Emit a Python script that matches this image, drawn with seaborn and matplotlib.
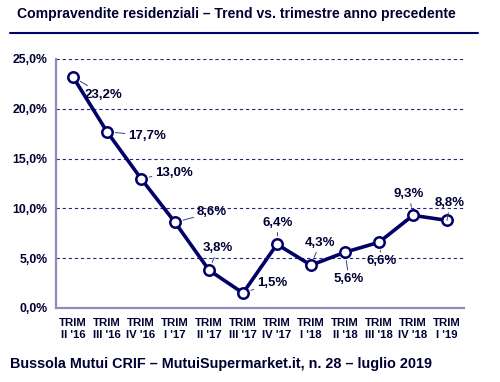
import matplotlib
matplotlib.use("Agg")
import matplotlib.pyplot as plt
import seaborn as sns
import pandas as pd
import numpy as np

categories = ["TRIM\nII '16", "TRIM\nIII '16", "TRIM\nIV '16", "TRIM\nI '17", "TRIM\nII '17",
              "TRIM\nIII '17", "TRIM\nIV '17", "TRIM\nI '18", "TRIM\nII '18", "TRIM\nIII '18",
              "TRIM\nIV '18", "TRIM\nI '19"]
values = [23.2, 17.7, 13.0, 8.6, 3.8, 1.5, 6.4, 4.3, 5.6, 6.6, 9.3, 8.8]
value_labels = ["23,2%", "17,7%", "13,0%", "8,6%", "3,8%", "1,5%", "6,4%", "4,3%", "5,6%", "6,6%", "9,3%", "8,8%"]
y_ticks = [0, 5, 10, 15, 20, 25]
y_tick_labels = ["0,0%", "5,0%", "10,0%", "15,0%", "20,0%", "25,0%"]
title = "Compravendite residenziali – Trend vs. trimestre anno precedente"
footer = "Bussola Mutui CRIF – MutuiSupermarket.it, n. 28 – luglio 2019"

# label offsets in pixels (dx, dy up)
label_offsets = [(30, -18), (40, -4), (33, 6), (37, 10), (9, 22), (29, 10),
                 (1, 21), (9, 22), (4, -27), (3, -19), (-4, 21), (3, 17)]

sns.set_theme(style="white")
plt.rcParams['font.family'] = ['Liberation Sans', 'DejaVu Sans']

navy = "#000066"
textc = "#000033"
spine_c = "#8c8cb8"

fig = plt.figure(figsize=(5.0, 3.82), dpi=100)
ax = fig.add_axes([56/500, 1-308/382, 408/500, 249/382])

df = pd.DataFrame({"x": np.arange(len(values)), "y": values})
sns.lineplot(data=df, x="x", y="y", ax=ax, color=navy, linewidth=2.6,
             marker="o", markersize=7.5, markerfacecolor="white",
             markeredgecolor=navy, markeredgewidth=1.8, zorder=5)

ax.set_xlim(-0.5, len(values) - 0.5)
ax.set_ylim(0, 25)
ax.set_xlabel("")
ax.set_ylabel("")

for yv in y_ticks[1:]:
    ax.axhline(yv, color=navy, lw=0.8, ls=(0, (3, 2.5)), zorder=1, alpha=0.85)

ax.set_yticks(y_ticks)
ax.set_yticklabels(y_tick_labels, fontsize=8.8, color=textc, fontweight="bold")
ax.tick_params(axis="y", length=0, pad=6)

ax.set_xticks(np.arange(-0.5, len(values)), minor=False)
ax.set_xticklabels([])
ax.set_xticks(np.arange(len(values)), minor=True)
ax.set_xticklabels(categories, minor=True, fontsize=8.2, fontweight="bold",
                   color=textc, linespacing=1.3)
ax.tick_params(axis="x", which="major", length=4, width=1, color=spine_c, direction="out")
ax.tick_params(axis="x", which="minor", length=0, pad=7)

for s in ["top", "right"]:
    ax.spines[s].set_visible(False)
for s in ["left", "bottom"]:
    ax.spines[s].set_color(spine_c)
    ax.spines[s].set_linewidth(1.6)

for i, (v, lab) in enumerate(zip(values, value_labels)):
    dx, dy = label_offsets[i]
    ax.annotate(lab, xy=(i, v), xytext=(dx, dy), textcoords="offset pixels",
                ha="center", va="center", fontsize=9.5, fontweight="bold", color=textc,
                arrowprops=dict(arrowstyle="-", color="#404070", lw=0.7,
                                shrinkA=0, shrinkB=6), zorder=6)

fig.text(17/500, 1-14/382, title, fontsize=10.1, fontweight="bold", color=textc,
         ha="left", va="center")
fig.add_artist(plt.Line2D([10/500, 478/500], [1-33/382, 1-33/382], color=navy, lw=1.5))
fig.text(10/500, 1-364/382, footer, fontsize=10.4, fontweight="bold", color=textc,
         ha="left", va="center")

fig.savefig("out.png", dpi=100)
